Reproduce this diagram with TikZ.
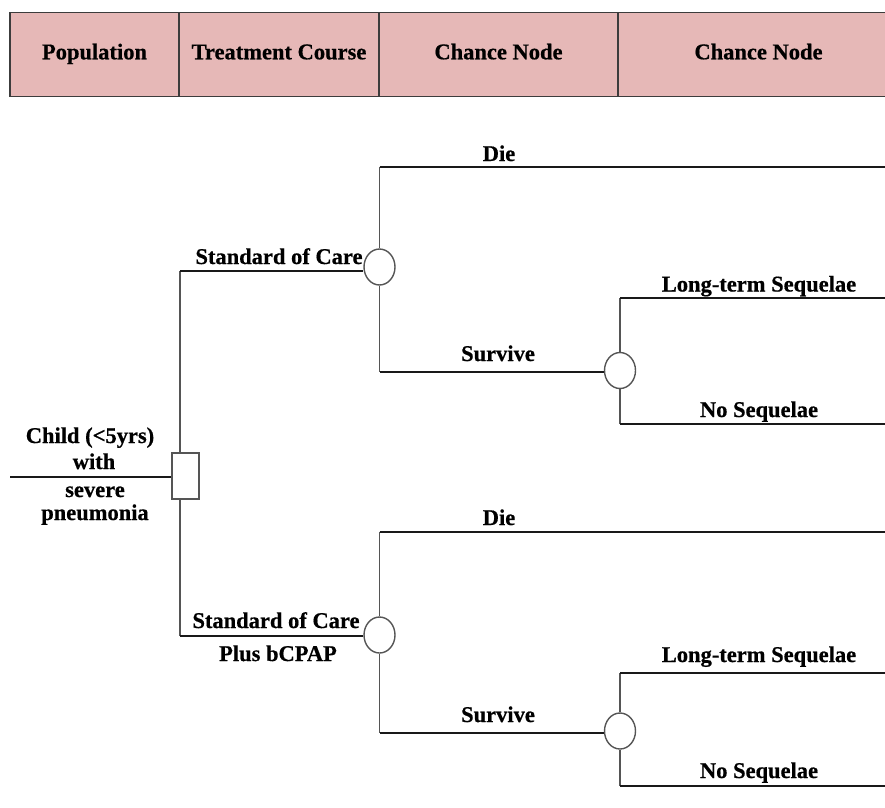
\documentclass[tikz,border=0pt]{standalone}
\usepackage{fontspec}
\setmainfont{Liberation Serif}[BoldFeatures={FakeBold=0.6}]
\usetikzlibrary{shapes.geometric}
\definecolor{hdrfill}{RGB}{230,184,183}
\definecolor{hdrline}{RGB}{60,60,60}
\definecolor{vgray}{RGB}{85,85,85}
\begin{document}
\begin{tikzpicture}[x=1pt,y=-1pt,
  lbl/.style={font=\fontsize{22.5}{26}\selectfont\bfseries, inner sep=0pt, anchor=base},
  hcell/.style={draw=hdrline, line width=1.2pt, fill=hdrfill, minimum height=84pt,
    inner sep=0pt, font=\fontsize{22.5}{26}\selectfont\bfseries, text height=15pt, text depth=5.8pt},
  hline/.style={draw=black!90, line width=2.2pt},
  vl/.style={draw=vgray, line width=1.2pt},
  chance/.style={ellipse, draw=vgray, line width=1.4pt, fill=white, minimum width=31pt, minimum height=36pt, inner sep=0pt},
  decision/.style={rectangle, draw=vgray, line width=1.2pt, fill=white, minimum width=27pt, minimum height=46pt, inner sep=0pt}
]
\useasboundingbox (0,0) rectangle (885,807);
\clip (0,0) rectangle (885,807);
% header
\node[hcell, minimum width=169pt] (h1) at (94.5,54.7) {Population};
\node[hcell, minimum width=200pt] (h2) at (279,54.7) {Treatment Course};
\node[hcell, minimum width=239pt] (h3) at (498.5,54.7) {Chance Node};
\node[hcell, minimum width=281pt] (h4) at (758.5,54.7) {Chance Node};

% root and decision node
\coordinate (start) at (10,477);
\node[decision] (root) at (185.5,476) {};
\draw[hline] (start) -- (start -| root.west);
\coordinate (t1) at (180,271);
\coordinate (t2) at (180,636);
\draw[vl] (t1) -- (root.north -| t1);
\draw[vl] (root.south -| t1) -- (t2);

% upper subtree
\node[chance] (c1) at (379.5,267) {};
\draw[hline] (t1) -- (t1 -| c1.west);
\coordinate (d1) at (379.5,167);
\coordinate (s1) at (379.5,372);
\draw[vl] (d1) -- (c1.north);
\draw[vl] (c1.south) -- (s1);
\coordinate (d1e) at (890,167);
\draw[hline] (d1) -- (d1e);
\node[chance] (c2) at (620,370.5) {};
\draw[hline] (s1) -- (s1 -| c2.west);
\coordinate (l1) at (620,298);
\coordinate (n1) at (620,424);
\coordinate (l1e) at (890,298);
\coordinate (n1e) at (890,424);
\draw[vl] (l1) -- (c2.north);
\draw[vl] (c2.south) -- (n1);
\draw[hline] (l1) -- (l1e);
\draw[hline] (n1) -- (n1e);

% lower subtree
\node[chance] (c3) at (379.5,635) {};
\draw[hline] (t2) -- (t2 -| c3.west);
\coordinate (d2) at (379.5,532);
\coordinate (s2) at (379.5,733);
\draw[vl] (d2) -- (c3.north);
\draw[vl] (c3.south) -- (s2);
\coordinate (d2e) at (890,532);
\draw[hline] (d2) -- (d2e);
\node[chance] (c4) at (620,731) {};
\draw[hline] (s2) -- (s2 -| c4.west);
\coordinate (l2) at (620,673);
\coordinate (n2) at (620,786);
\coordinate (l2e) at (890,673);
\coordinate (n2e) at (890,786);
\draw[vl] (l2) -- (c4.north);
\draw[vl] (c4.south) -- (n2);
\draw[hline] (l2) -- (l2e);
\draw[hline] (n2) -- (n2e);

% labels
\node[lbl] (pop1) at (90,443) {Child (<5yrs)};
\node[lbl] (pop2) at (94,469) {with};
\node[lbl] (pop3) at (95,497) {severe};
\node[lbl] (pop4) at (95,520) {pneumonia};
\node[lbl] (tr1) at (279,264) {Standard of Care};
\node[lbl] (tr2) at (276,628) {Standard of Care};
\node[lbl] (tr3) at (278,661) {Plus bCPAP};
\node[lbl] (die1) at (499,161) {Die};
\node[lbl] (sur1) at (498,361) {Survive};
\node[lbl] (die2) at (499,525) {Die};
\node[lbl] (sur2) at (498,722) {Survive};
\node[lbl] (lt1) at (759,291.5) {Long-term Sequelae};
\node[lbl] (ns1) at (759,417) {No Sequelae};
\node[lbl] (lt2) at (759,662) {Long-term Sequelae};
\node[lbl] (ns2) at (759,778) {No Sequelae};
\end{tikzpicture}
\end{document}
